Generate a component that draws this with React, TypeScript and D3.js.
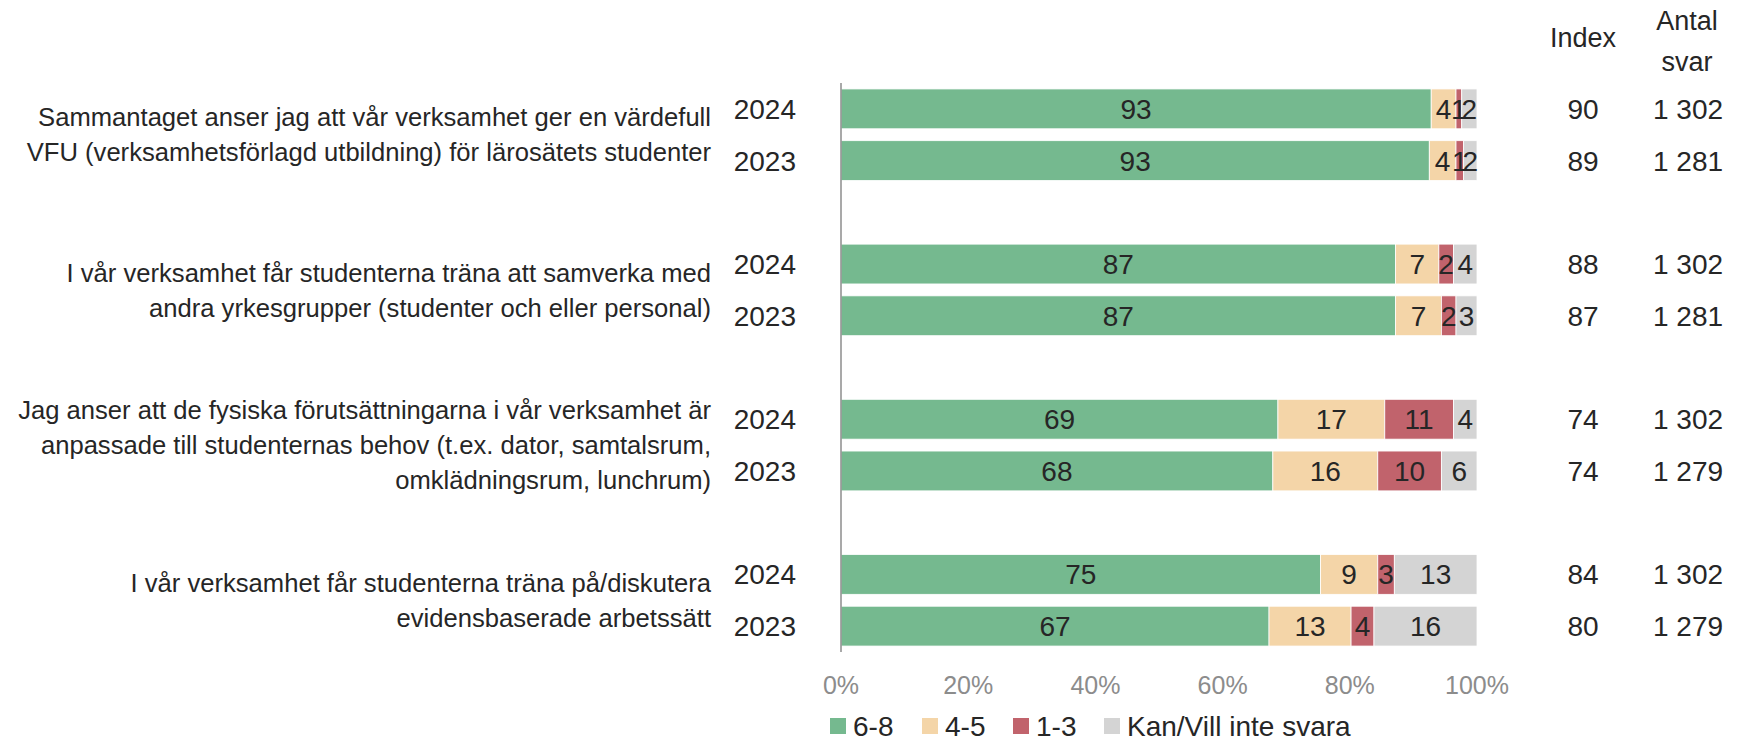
import React from "react";
import * as d3 from "d3";

const categories: string[][] = [
  ["Sammantaget anser jag att vår verksamhet ger en värdefull", "VFU (verksamhetsförlagd utbildning) för lärosätets studenter"],
  ["I vår verksamhet får studenterna träna att samverka med", "andra yrkesgrupper (studenter och eller personal)"],
  ["Jag anser att de fysiska förutsättningarna i vår verksamhet är", "anpassade till studenternas behov (t.ex. dator, samtalsrum,", "omklädningsrum, lunchrum)"],
  ["I vår verksamhet får studenterna träna på/diskutera", "evidensbaserade arbetssätt"],
];
const years = ["2024", "2023"];
const seriesNames = ["6-8", "4-5", "1-3", "Kan/Vill inte svara"];
const seriesColors = ["#75B98F", "#F4D5A8", "#C1636C", "#D4D4D4"];

// values per category: [2024, 2023], each [6-8, 4-5, 1-3, Kan/Vill]
const v68 = [[92.8, 92.5], [87.2, 87.2], [68.7, 67.9], [75.4, 67.3]];
const v45 = [[3.9, 4.2], [6.8, 7.2], [16.8, 16.5], [9.0, 12.9]];
const v13 = [[0.9, 1.2], [2.3, 2.3], [10.8, 10.0], [2.6, 3.6]];
const vKan = [[2.4, 2.1], [3.7, 3.3], [3.7, 5.6], [13.0, 16.2]];
const labels68 = [[93, 93], [87, 87], [69, 68], [75, 67]];
const labels45 = [[4, 4], [7, 7], [17, 16], [9, 13]];
const labels13 = [[1, 1], [2, 2], [11, 10], [3, 4]];
const labelsKan = [[2, 2], [4, 3], [4, 6], [13, 16]];
const indexVals = [[90, 89], [88, 87], [74, 74], [84, 80]];
const antalSvar = [["1 302", "1 281"], ["1 302", "1 281"], ["1 302", "1 279"], ["1 302", "1 279"]];
const ticks = [0, 20, 40, 60, 80, 100];

const FONT = "'Liberation Sans', Arial, sans-serif";
const TXT = "#262626";

export default function App() {
  const W = 1743, H = 738;
  const x = d3.scaleLinear().domain([0, 100]).range([841, 1477]);
  const yTop = 83, yBot = 652;
  const y = d3.scaleBand<number>().domain(d3.range(11)).range([yTop, yBot]).paddingInner(0.23).paddingOuter(0.115);
  const values = [v68, v45, v13, vKan];
  const lbls = [labels68, labels45, labels13, labelsKan];

  const bars: React.ReactNode[] = [];
  const texts: React.ReactNode[] = [];
  categories.forEach((cat, ci) => {
    years.forEach((yr, yi) => {
      const row = ci * 3 + yi;
      const y0 = y(row)!;
      const bh = y.bandwidth();
      const cy = y0 + bh / 2;
      let acc = 0;
      values.forEach((sv, si) => {
        const val = sv[ci][yi];
        const x0 = x(acc), x1 = x(acc + val);
        acc += val;
        bars.push(
          <rect key={`b${ci}-${yi}-${si}`} x={x0} y={y0} width={x1 - x0} height={bh} fill={seriesColors[si]} stroke="#fff" strokeWidth={0.8} />
        );
        texts.push(
          <text key={`l${ci}-${yi}-${si}`} x={(x0 + x1) / 2} y={cy} dy="0.36em" textAnchor="middle" fontSize={28} fill={TXT} fontFamily={FONT}>
            {lbls[si][ci][yi]}
          </text>
        );
      });
      texts.push(
        <text key={`yr${ci}-${yi}`} x={796} y={cy} dy="0.36em" textAnchor="end" fontSize={28} fill={TXT} fontFamily={FONT}>{yr}</text>,
        <text key={`ix${ci}-${yi}`} x={1583} y={cy} dy="0.36em" textAnchor="middle" fontSize={28} fill={TXT} fontFamily={FONT}>{indexVals[ci][yi]}</text>,
        <text key={`an${ci}-${yi}`} x={1688} y={cy} dy="0.36em" textAnchor="middle" fontSize={28} fill={TXT} fontFamily={FONT}>{antalSvar[ci][yi]}</text>
      );
    });
    const gc = (y(ci * 3)! + y(ci * 3 + 1)! + y.bandwidth()) / 2;
    const lh = 35;
    cat.forEach((line, li) => {
      texts.push(
        <text key={`c${ci}-${li}`} x={711} y={gc + (li - (cat.length - 1) / 2) * lh} dy="0.36em" textAnchor="end" fontSize={25.6} fill={TXT} fontFamily={FONT}>{line}</text>
      );
    });
  });

  const legendX = [830, 922, 1013, 1104];

  return (
    <svg width={W} height={H} style={{ position: "absolute", left: 0, top: 0, background: "#fff" }} fontFamily={FONT}>
      <rect width={W} height={H} fill="#fff" />
      {bars}
      <line x1={841} x2={841} y1={yTop} y2={yBot} stroke="#8c8c8c" strokeWidth={1.5} />
      {texts}
      {ticks.map((t) => (
        <text key={`t${t}`} x={x(t)} y={694} textAnchor="middle" fontSize={25} fill="#8c8c8c">{t}%</text>
      ))}
      <text x={1583} y={47} textAnchor="middle" fontSize={27} fill={TXT}>Index</text>
      <text x={1687} y={30} textAnchor="middle" fontSize={27} fill={TXT}>Antal</text>
      <text x={1687} y={71} textAnchor="middle" fontSize={27} fill={TXT}>svar</text>
      {seriesNames.map((n, i) => (
        <g key={`lg${i}`} transform={`translate(${legendX[i]},726)`}>
          <rect x={0} y={-8} width={16} height={16} fill={seriesColors[i]} />
          <text x={23} y={0} dy="0.36em" fontSize={28} fill={TXT}>{n}</text>
        </g>
      ))}
    </svg>
  );
}
